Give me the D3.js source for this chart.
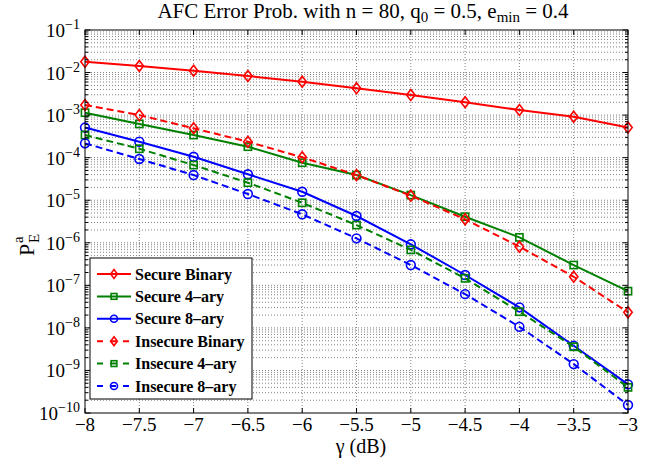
<!DOCTYPE html>
<html><head><meta charset="utf-8">
<script src="https://cdn.jsdelivr.net/npm/d3@7"></script>
<style>body{margin:0;background:#fff}</style>
</head><body><svg id="chart" width="658" height="461" style="font-family:'Liberation Serif','Times New Roman',serif"></svg>
<script>
// SNR points (dB)
const gammaDb = [-8, -7.5, -7, -6.5, -6, -5.5, -5, -4.5, -4, -3.5, -3];

// Error probability per scheme
const secureBinary   = [1.80e-2, 1.43e-2, 1.10e-2, 8.3e-3, 6.1e-3, 4.27e-3, 2.96e-3, 2.0e-3, 1.32e-3, 9.2e-4, 5.1e-4];
const secure4ary     = [1.14e-3, 6.2e-4, 3.4e-4, 1.81e-4, 7.6e-5, 3.9e-5, 1.32e-5, 4.1e-6, 1.34e-6, 3.0e-7, 7.3e-8];
const secure8ary     = [5.1e-4, 2.37e-4, 1.05e-4, 4.07e-5, 1.58e-5, 4.26e-6, 9.2e-7, 1.75e-7, 3.04e-8, 3.8e-9, 4.7e-10];
const insecureBinary = [1.73e-3, 1.0e-3, 4.9e-4, 2.37e-4, 1.02e-4, 3.9e-5, 1.28e-5, 3.56e-6, 8.1e-7, 1.59e-7, 2.32e-8];
const insecure4ary   = [3.4e-4, 1.62e-4, 6.7e-5, 2.58e-5, 8.7e-6, 2.61e-6, 6.8e-7, 1.46e-7, 2.4e-8, 3.6e-9, 4.0e-10];
const insecure8ary   = [2.17e-4, 9.3e-5, 3.9e-5, 1.4e-5, 4.67e-6, 1.27e-6, 3.0e-7, 6.2e-8, 1.06e-8, 1.41e-9, 1.54e-10];

const seriesNames = ["Secure Binary", "Secure 4\u2013ary", "Secure 8\u2013ary",
                     "Insecure Binary", "Insecure 4\u2013ary", "Insecure 8\u2013ary"];

// Axis ticks
const xTicks = [-8, -7.5, -7, -6.5, -6, -5.5, -5, -4.5, -4, -3.5, -3];
const yExponents = [-10, -9, -8, -7, -6, -5, -4, -3, -2, -1];

const seriesValues = [secureBinary, secure4ary, secure8ary, insecureBinary, insecure4ary, insecure8ary];
const styles = [
  {color: "#ff0000", dash: null,  marker: "diamond"},
  {color: "#008000", dash: null,  marker: "square"},
  {color: "#0000ff", dash: null,  marker: "circle"},
  {color: "#ff0000", dash: "7,4", marker: "diamond"},
  {color: "#008000", dash: "7,4", marker: "square"},
  {color: "#0000ff", dash: "7,4", marker: "circle"}
];

const svg = d3.select("#chart");
const L = 85, R = 628, T = 30, B = 413;
const SERIF = '"Liberation Serif", "Times New Roman", serif';

const x = d3.scaleLinear().domain([-8, -3]).range([L, R]);
const y = d3.scaleLog().domain([1e-10, 1e-1]).range([B, T]);

const minus = v => String(v).replace("-", "\u2212");
const label = (g) => g.append("text").style("font-family", SERIF).attr("fill", "#000");

// grid
const grid = svg.append("g").attr("stroke", "#666").attr("stroke-width", 0.8)
  .attr("stroke-dasharray", "1,2").attr("fill", "none");
xTicks.slice(1, -1).forEach(t => {
  grid.append("line").attr("x1", x(t)).attr("x2", x(t)).attr("y1", T).attr("y2", B);
});
const yGridVals = [];
yExponents.forEach(e => { for (let m = 1; m <= 9; m++) { if (e === -1 && m > 1) break; yGridVals.push(m * Math.pow(10, e)); } });
yGridVals.filter(v => v > 1.0001e-10 && v < 0.9999e-1).forEach(v => {
  grid.append("line").attr("x1", L).attr("x2", R).attr("y1", y(v)).attr("y2", y(v));
});

// marker shapes
function drawMarker(g, shape, cx, cy, color, s) {
  if (shape === "diamond") {
    g.append("path").attr("d", `M${cx},${cy - 5.5 * s}L${cx + 4.2 * s},${cy}L${cx},${cy + 5.5 * s}L${cx - 4.2 * s},${cy}Z`)
      .attr("fill", "none").attr("stroke", color).attr("stroke-width", 1.6);
  } else if (shape === "square") {
    g.append("rect").attr("x", cx - 3.6 * s).attr("y", cy - 3.6 * s).attr("width", 7.2 * s).attr("height", 7.2 * s)
      .attr("fill", "none").attr("stroke", color).attr("stroke-width", 1.6);
  } else {
    g.append("circle").attr("cx", cx).attr("cy", cy).attr("r", 4.4 * s)
      .attr("fill", "none").attr("stroke", color).attr("stroke-width", 1.6);
  }
}

// series
const line = d3.line().x((d, i) => x(gammaDb[i])).y(d => y(d));
const plot = svg.append("g");
seriesValues.forEach((vals, k) => {
  const st = styles[k];
  plot.append("path").datum(vals).attr("d", line).attr("fill", "none")
    .attr("stroke", st.color).attr("stroke-width", 2)
    .attr("stroke-dasharray", st.dash);
  vals.forEach((v, i) => drawMarker(plot, st.marker, x(gammaDb[i]), y(v), st.color, 1));
});

// axes frame and ticks
const ax = svg.append("g").attr("stroke", "#000").attr("stroke-width", 1).attr("fill", "none");
ax.append("rect").attr("x", L).attr("y", T).attr("width", R - L).attr("height", B - T);
xTicks.forEach(t => {
  ax.append("line").attr("x1", x(t)).attr("x2", x(t)).attr("y1", B).attr("y2", B - 5);
  ax.append("line").attr("x1", x(t)).attr("x2", x(t)).attr("y1", T).attr("y2", T + 5);
});
yGridVals.forEach(v => {
  const major = Math.abs(Math.log10(v) - Math.round(Math.log10(v))) < 1e-6;
  const len = major ? 5.5 : 3;
  ax.append("line").attr("x1", L).attr("x2", L + len).attr("y1", y(v)).attr("y2", y(v));
  ax.append("line").attr("x1", R).attr("x2", R - len).attr("y1", y(v)).attr("y2", y(v));
});

// x tick labels
const xl = svg.append("g");
xTicks.forEach(t => {
  label(xl).attr("x", x(t)).attr("y", 431).attr("text-anchor", "middle")
    .attr("font-size", 19).text(minus(t));
});

// y tick labels
const yl = svg.append("g");
yExponents.forEach(e => {
  const t = label(yl).attr("x", 80).attr("y", y(Math.pow(10, e)) + 7)
    .attr("text-anchor", "end").attr("font-size", 19);
  t.append("tspan").text("10");
  t.append("tspan").attr("font-size", 14).attr("dy", -8).text(minus(e));
});

// title
const title = label(svg).attr("x", 363).attr("y", 18).attr("text-anchor", "middle")
  .attr("font-size", 21);
title.append("tspan").text("AFC Error Prob. with n = 80, q");
title.append("tspan").attr("font-size", 15).attr("dy", 4).text("0");
title.append("tspan").attr("dy", -4).text(" = 0.5, e");
title.append("tspan").attr("font-size", 15).attr("dy", 4).text("min");
title.append("tspan").attr("dy", -4).text(" = 0.4");

// x label
label(svg).attr("x", 361).attr("y", 453).attr("text-anchor", "middle")
  .attr("font-size", 20).text("\u03B3 (dB)");

// y label
const ylab = svg.append("g").attr("transform", "translate(34,256) rotate(-90)");
label(ylab).attr("x", 0).attr("y", 0).attr("font-size", 22).text("P");
label(ylab).attr("x", 13).attr("y", 5).attr("font-size", 15).text("E");
label(ylab).attr("x", 13).attr("y", -11).attr("font-size", 15).text("a");

// legend
const lg = svg.append("g");
lg.append("rect").attr("x", 90).attr("y", 258).attr("width", 162).attr("height", 141)
  .attr("fill", "#fff").attr("stroke", "#000").attr("stroke-width", 1);
seriesNames.forEach((name, k) => {
  const st = styles[k];
  const cy = 274 + k * 22.4;
  lg.append("line").attr("x1", 97).attr("x2", 131).attr("y1", cy).attr("y2", cy)
    .attr("stroke", st.color).attr("stroke-width", 2).attr("stroke-dasharray", st.dash ? "6,7" : null);
  drawMarker(lg, st.marker, 114, cy, st.color, 0.8);
  label(lg).attr("x", 135).attr("y", cy + 5.5)
    .attr("font-weight", "bold").attr("font-size", 16).text(name);
});
</script></body></html>
